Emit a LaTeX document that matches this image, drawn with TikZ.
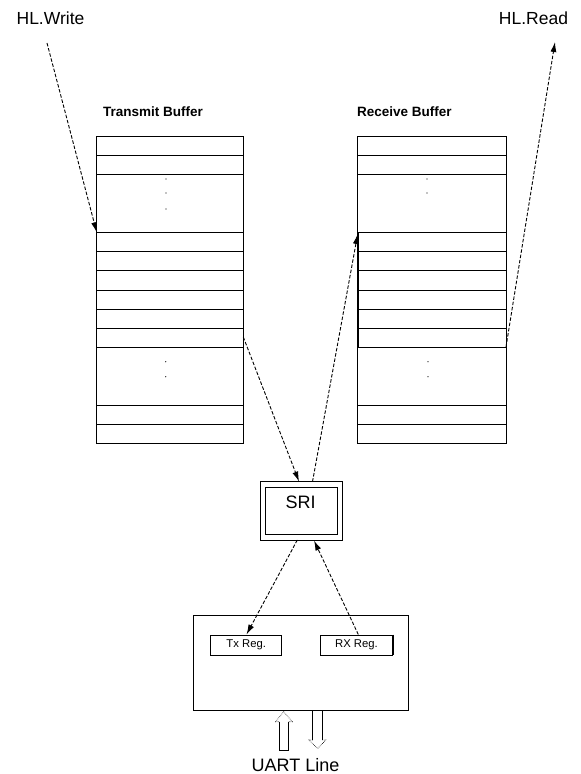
\documentclass[tikz,border=0pt]{standalone}
\usepackage{fontspec}
\setmainfont{Liberation Sans}
\usetikzlibrary{arrows.meta}

\begin{document}
\begin{tikzpicture}[x=1pt,y=-1pt,
  box/.style={draw,line width=0.9pt,inner sep=0pt,rectangle},
  slotline/.style={line width=0.9pt},
  headline/.style={line width=1.8pt},
  flow/.style={line width=0.9pt,dash pattern=on 3.5pt off 1.8pt,
    -{Latex[length=10pt,width=6pt]}},
  title/.style={font=\fontsize{17.5}{20}\selectfont,inner sep=0pt},
  buftitle/.style={font=\bfseries\fontsize{13.5}{16}\selectfont,inner sep=0pt},
  regtext/.style={font=\fontsize{11.3}{13}\selectfont,inner sep=0pt},
  tinydot/.style={fill,circle,inner sep=0pt,minimum size=1.2pt}
]
\useasboundingbox (0,0) rectangle (581,774);

% --- labels at the top ---
\node[title] (hlw) at (50.5,18) {HL.Write};
\node[title] (hlr) at (533.5,18) {HL.Read};
\coordinate (hlwstart) at (47,43);
\coordinate (hlrend) at (555,42);

% --- transmit buffer ---
\node[buftitle,anchor=west] (tbt) at (103,112) {Transmit Buffer};
\node[box,minimum width=146.6pt,minimum height=306.8pt] (tb) at (170,289.9) {};
\draw[headline] (96.7,136.5) -- (243.3,136.5);
\draw[headline] (96.7,155.5) -- (243.3,155.5);
\foreach \yy in {174.3,232.3,251.7,270.7,290,309.3,328.7,347.7,405,424.3}
  \draw[slotline] (96.7,\yy) -- (243.3,\yy);
\foreach \yy in {179,193,209}
  \node[tinydot] at (166,\yy) {};
\foreach \yy in {361.7,376.7}
  \node[tinydot] at (165.7,\yy) {};
\coordinate (tbin) at (96.7,232.3);
\coordinate (tbout) at (243.3,337);

% --- receive buffer ---
\node[buftitle,anchor=west] (rbt) at (357,112) {Receive Buffer};
\node[box,minimum width=148.3pt,minimum height=306.8pt] (rb) at (431.85,289.9) {};
\draw[headline] (357.7,136.5) -- (506,136.5);
\draw[headline] (357.7,155.5) -- (506,155.5);
\foreach \yy in {174.3,232.3,251.7,270.7,290,309.3,328.7,347.7,405,424.3}
  \draw[slotline] (357.7,\yy) -- (506,\yy);
\draw[headline] (357.7,232.3) -- (357.7,347.7);
\foreach \yy in {179,193}
  \node[tinydot] at (427,\yy) {};
\foreach \yy in {361.7,376.7}
  \node[tinydot] at (428,\yy) {};
\coordinate (rbin) at (357.7,234);
\coordinate (rbout) at (506,347);

% --- SRI ---
\node[box,minimum width=82.7pt,minimum height=58.3pt] (sri) at (301.35,510.85) {};
\node[box,minimum width=71.6pt,minimum height=47.4pt] (sriin) at (301.5,511) {};
\node[font=\fontsize{18}{20}\selectfont,inner sep=0pt] (srit) at (300.5,502) {SRI};
\coordinate (sritopin) at (299,481.5);
\coordinate (sritopout) at (312.5,481.7);
\coordinate (sribotout) at (297.3,540);
\coordinate (sribotin) at (314,540.5);

% --- UART ---
\node[box,minimum width=215pt,minimum height=95.7pt] (uart) at (300.8,662.85) {};
\node[box,minimum width=71pt,minimum height=20pt,regtext] (txreg) at (246.2,645) {Tx Reg.};
\node[box,minimum width=71.6pt,minimum height=20pt,regtext] (rxreg) at (356.5,645) {RX Reg.};
\draw[line width=1.8pt] (rxreg.north east) -- (rxreg.south east);
\coordinate (txin) at (246.5,634.5);
\coordinate (rxout) at (358.3,634.5);

% --- UART line arrows ---
\draw[line width=0.9pt] (288.3,721.7) -- (288.3,750) -- (279,750) -- (279,721.7);
\draw[line width=0.6pt,densely dotted] (279,721.7) -- (275.7,721.7) -- (283.7,711.7)
  -- (292.3,721.7) -- (288.3,721.7);
\draw[line width=0.9pt] (312.7,711) -- (312.7,740);
\draw[line width=0.9pt] (322.7,711) -- (322.7,740);
\draw[line width=0.6pt,densely dotted] (312.7,740) -- (309,740) -- (317.7,748.5)
  -- (325.7,740) -- (322.7,740);
\node[font=\fontsize{18}{20}\selectfont,inner sep=0pt] (uartl) at (295.5,765) {UART Line};

% --- data flow ---
\draw[flow] (hlwstart) -- (tbin);
\draw[flow] (tbout) -- (sritopin);
\draw[flow] (sritopout) -- (rbin);
\draw[flow] (rbout) -- (hlrend);
\draw[flow] (sribotout) -- (txin);
\draw[flow] (rxout) -- (sribotin);
\end{tikzpicture}
\end{document}
